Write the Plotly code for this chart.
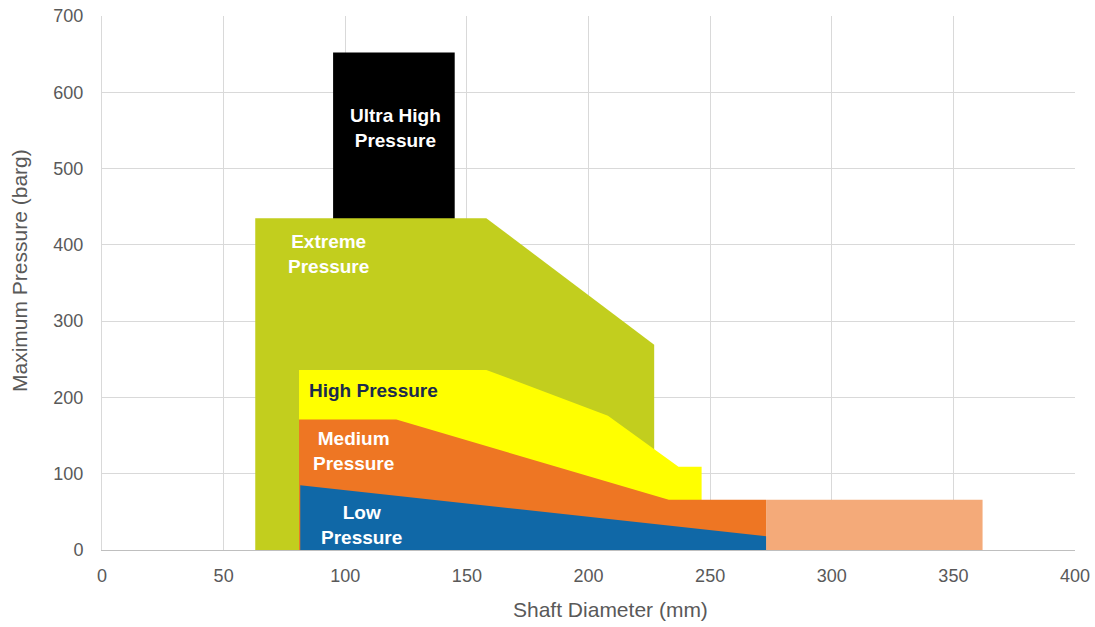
import plotly.graph_objects as go

# Upper envelopes of each pressure region (shaft diameter mm -> max pressure barg)
ultra_x = [95, 145]
ultra_y = [652, 652]
extreme_x = [63, 158, 227]
extreme_y = [435, 435, 269]
high_x = [81, 158, 208, 237, 246.5]
high_y = [236, 236, 176, 109, 109]
medium_x = [81, 121, 233, 273]
medium_y = [171, 171, 66, 66]
medium_ext_x = [273, 362]
medium_ext_y = [66, 66]
low_x = [81.5, 273]
low_y = [85, 18]

labels = [
    ("Ultra High<br>Pressure", 120.5, 553, "white"),
    ("Extreme<br>Pressure", 93, 388, "white"),
    ("High Pressure", 111.5, 209, "#1B2A4E"),
    ("Medium<br>Pressure", 103.5, 130, "white"),
    ("Low<br>Pressure", 106.5, 33, "white"),
]

x_title = "Shaft Diameter (mm)"
y_title = "Maximum Pressure (barg)"

series = [
    (ultra_x, ultra_y, "#000000"),
    (extreme_x, extreme_y, "#C2CE1E"),
    (high_x, high_y, "#FFFF00"),
    (medium_x, medium_y, "#EE7623"),
    (medium_ext_x, medium_ext_y, "#F4AA79"),
    (low_x, low_y, "#1068A7"),
]

fig = go.Figure()
for xs, ys, col in series:
    fig.add_trace(go.Scatter(x=xs, y=ys, mode="lines", fill="tozeroy",
                             fillcolor=col, line=dict(width=0, color=col),
                             hoverinfo="skip", showlegend=False))

for txt, x, y, col in labels:
    fig.add_annotation(x=x, y=y, text="<b>" + txt + "</b>", showarrow=False,
                       font=dict(family="Liberation Sans, Arial", size=19, color=col),
                       align="center")

# axis titles (placed as in the reference, slightly off-centre)
fig.add_annotation(xref="paper", yref="paper", x=0.523, y=-0.112, text=x_title,
                   showarrow=False, xanchor="center", yanchor="middle",
                   font=dict(family="Liberation Sans, Arial", size=21, color="#595959"))
fig.add_annotation(xref="paper", yref="paper", x=-0.0855, y=0.524, text=y_title,
                   showarrow=False, textangle=-90, xanchor="center", yanchor="middle",
                   font=dict(family="Liberation Sans, Arial", size=21, color="#595959"))

fig.update_layout(
    width=1095, height=627,
    margin=dict(l=102, r=20, t=16, b=77),
    plot_bgcolor="white", paper_bgcolor="white",
    font=dict(family="Liberation Sans, Arial", color="#595959"),
    xaxis=dict(range=[0, 400], dtick=50, showgrid=True, gridcolor="#D9D9D9",
               zeroline=False, showline=True, linecolor="#BFBFBF", automargin=False,
               tickfont=dict(size=18, color="#595959"), ticks="",
               ticklabelstandoff=9, ticklabeloverflow="allow"),
    yaxis=dict(range=[0, 700], dtick=100, showgrid=True, gridcolor="#D9D9D9",
               zeroline=False, showline=True, linecolor="#D9D9D9", automargin=False,
               tickfont=dict(size=18, color="#595959"), ticks="",
               ticklabelstandoff=14, ticklabeloverflow="allow"),
)

fig.write_html("out.html", config={"displayModeBar": False},
               post_script="document.body.style.margin='0';")
